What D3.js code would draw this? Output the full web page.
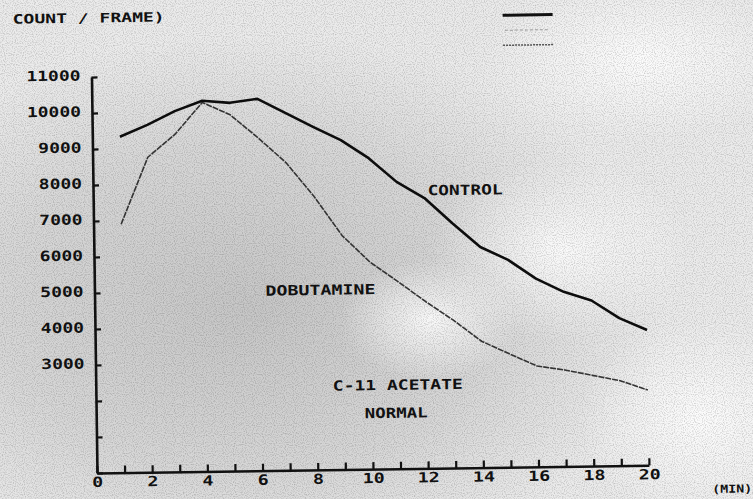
<!DOCTYPE html>
<html>
<head>
<meta charset="utf-8">
<script src="https://cdn.jsdelivr.net/npm/d3@7"></script>
<style>
  html, body { margin: 0; padding: 0; background: #fff; }
  svg { display: block; }
  text { font-family: "DejaVu Sans Mono", "Liberation Mono", monospace; font-weight: bold; fill: #111; }
</style>
</head>
<body>
<svg id="chart" width="753" height="499"></svg>
<script>
// ---- data ----
const minutes = [1, 2, 3, 4, 5, 6, 7, 8, 9, 10, 11, 12, 13, 14, 15, 16, 17, 18, 19, 20];
const controlValues = [9330, 9650, 10020, 10300, 10230, 10330, 9930, 9530, 9150, 8640,
                       7970, 7510, 6800, 6130, 5760, 5230, 4850, 4600, 4100, 3760];
const dobutamineValues = [6900, 8750, 9380, 10250, 9900, 9250, 8550, 7600, 6500, 5750,
                          5200, 4630, 4100, 3510, 3150, 2800, 2680, 2520, 2360, 2090];
const yTickValues = [0, 1000, 2000, 3000, 4000, 5000, 6000, 7000, 8000, 9000, 10000, 11000];
const yTickLabels = ["", "", "", "3000", "4000", "5000", "6000", "7000", "8000", "9000", "10000", "11000"];
const xTickValues = d3.range(0, 21, 1);
const xTickLabels = ["0", "", "2", "", "4", "", "6", "", "8", "", "10", "", "12", "", "14", "", "16", "", "18", "", "20"];
const yTitle = "COUNT / FRAME)";
const xTitle = "(MIN)";
const seriesLabels = ["CONTROL", "DOBUTAMINE", "C-11 ACETATE", "NORMAL"];

// ---- layout ----
const W = 753, H = 499;
const ox = 97, oy = 473;          // axis origin
const svg = d3.select("#chart");

// background: halftone-like grey shading
const defs = svg.append("defs");
const g1 = defs.append("radialGradient").attr("id", "bgA")
  .attr("cx", 0.33).attr("cy", 0.62).attr("r", 0.55);
g1.append("stop").attr("offset", "0%").attr("stop-color", "#c6c6c6");
g1.append("stop").attr("offset", "60%").attr("stop-color", "#d7d7d7");
g1.append("stop").attr("offset", "100%").attr("stop-color", "#ebebeb");
const g2 = defs.append("radialGradient").attr("id", "bgB")
  .attr("cx", 0.5).attr("cy", 0.5).attr("r", 0.5);
g2.append("stop").attr("offset", "0%").attr("stop-color", "#ffffff").attr("stop-opacity", 0.85);
g2.append("stop").attr("offset", "100%").attr("stop-color", "#ffffff").attr("stop-opacity", 0);
const noise = defs.append("filter").attr("id", "grain");
noise.append("feTurbulence").attr("type", "fractalNoise").attr("baseFrequency", 0.9)
  .attr("numOctaves", 1).attr("seed", 3).attr("result", "n");
noise.append("feColorMatrix").attr("type", "matrix")
  .attr("values", "0 0 0 0 0  0 0 0 0 0  0 0 0 0 0  0 0 0 -1.6 0.9");

svg.append("rect").attr("width", W).attr("height", H).attr("fill", "url(#bgA)");
svg.append("ellipse").attr("cx", 560).attr("cy", 250).attr("rx", 130).attr("ry", 90).attr("fill", "url(#bgB)");
svg.append("ellipse").attr("cx", 430).attr("cy", 320).attr("rx", 90).attr("ry", 60).attr("fill", "url(#bgB)");
svg.append("ellipse").attr("cx", 640).attr("cy", 60).attr("rx", 160).attr("ry", 80).attr("fill", "url(#bgB)");
svg.append("ellipse").attr("cx", 700).attr("cy", 420).attr("rx", 120).attr("ry", 100).attr("fill", "url(#bgB)");
svg.append("rect").attr("width", W).attr("height", H).attr("filter", "url(#grain)").attr("opacity", 0.3);

// whole plot slightly rotated, as in the photographed original
const g = svg.append("g").attr("transform", `rotate(-0.8, ${ox}, ${oy})`);

const x = d3.scaleLinear().domain([0, 20]).range([ox, ox + 552]);
const y = d3.scaleLinear().domain([0, 11000]).range([oy, oy - 396]);

// y axis
const yAxis = d3.axisLeft(y)
  .tickValues(yTickValues)
  .tickFormat((d, i) => yTickLabels[i])
  .tickSizeInner(-6).tickSizeOuter(0).tickPadding(11);
const yg = g.append("g").attr("transform", `translate(${ox},0)`).call(yAxis);
yg.select(".domain").attr("stroke", "#111").attr("stroke-width", 2.6);
yg.selectAll(".tick line").attr("stroke", "#111").attr("stroke-width", 2.2);
yg.selectAll(".tick text")
  .attr("font-family", "DejaVu Sans Mono").attr("font-weight", "bold")
  .attr("font-size", 14).attr("fill", "#111").attr("dy", "0.2em")
  .attr("textLength", (d, i) => yTickLabels[i].length * 10.8)
  .attr("lengthAdjust", "spacingAndGlyphs");

// x axis
const xAxis = d3.axisBottom(x)
  .tickValues(xTickValues)
  .tickFormat((d, i) => xTickLabels[i])
  .tickSizeInner(-7).tickSizeOuter(0).tickPadding(4);
const xg = g.append("g").attr("transform", `translate(0,${oy})`).call(xAxis);
xg.select(".domain").attr("stroke", "#111").attr("stroke-width", 2.6);
xg.selectAll(".tick line").attr("stroke", "#111").attr("stroke-width", 2.2);
xg.selectAll(".tick text")
  .attr("font-family", "DejaVu Sans Mono").attr("font-weight", "bold")
  .attr("font-size", 14).attr("fill", "#111")
  .attr("textLength", (d, i) => xTickLabels[i].length * 11)
  .attr("lengthAdjust", "spacingAndGlyphs");

// lines
const line = d3.line().x((d, i) => x(minutes[i])).y(d => y(d));
g.append("path").datum(dobutamineValues).attr("d", line)
  .attr("fill", "none").attr("stroke", "#333").attr("stroke-width", 1.6)
  .attr("stroke-dasharray", "6,1").attr("stroke-linejoin", "round");
g.append("path").datum(controlValues).attr("d", line)
  .attr("fill", "none").attr("stroke", "#0d0d0d").attr("stroke-width", 2.6)
  .attr("stroke-linejoin", "round");

// texts
function label(txt, cx, cy, size, len, anchor) {
  g.append("text").attr("x", cx).attr("y", cy)
    .attr("text-anchor", anchor || "middle").attr("dominant-baseline", "central")
    .attr("font-size", size)
    .attr("textLength", len).attr("lengthAdjust", "spacingAndGlyphs")
    .text(txt);
}
label(yTitle, 19, 18, 13, 152, "start");
label(xTitle, 732, 498, 11, 40);
label(seriesLabels[0], 469, 195, 14, 75);
label(seriesLabels[1], 323, 293, 14, 110);
label(seriesLabels[2], 399, 389, 14, 130);
label(seriesLabels[3], 397, 417, 14, 63);

// legend swatches (top right)
g.append("line").attr("x1", 509).attr("x2", 559).attr("y1", 21).attr("y2", 21)
  .attr("stroke", "#111").attr("stroke-width", 3);
g.append("line").attr("x1", 511).attr("x2", 554).attr("y1", 36).attr("y2", 36)
  .attr("stroke", "#9a9a9a").attr("stroke-width", 1).attr("stroke-dasharray", "3,2");
g.append("line").attr("x1", 509).attr("x2", 559).attr("y1", 51).attr("y2", 51)
  .attr("stroke", "#555").attr("stroke-width", 1.5).attr("stroke-dasharray", "2,1");
</script>
</body>
</html>
